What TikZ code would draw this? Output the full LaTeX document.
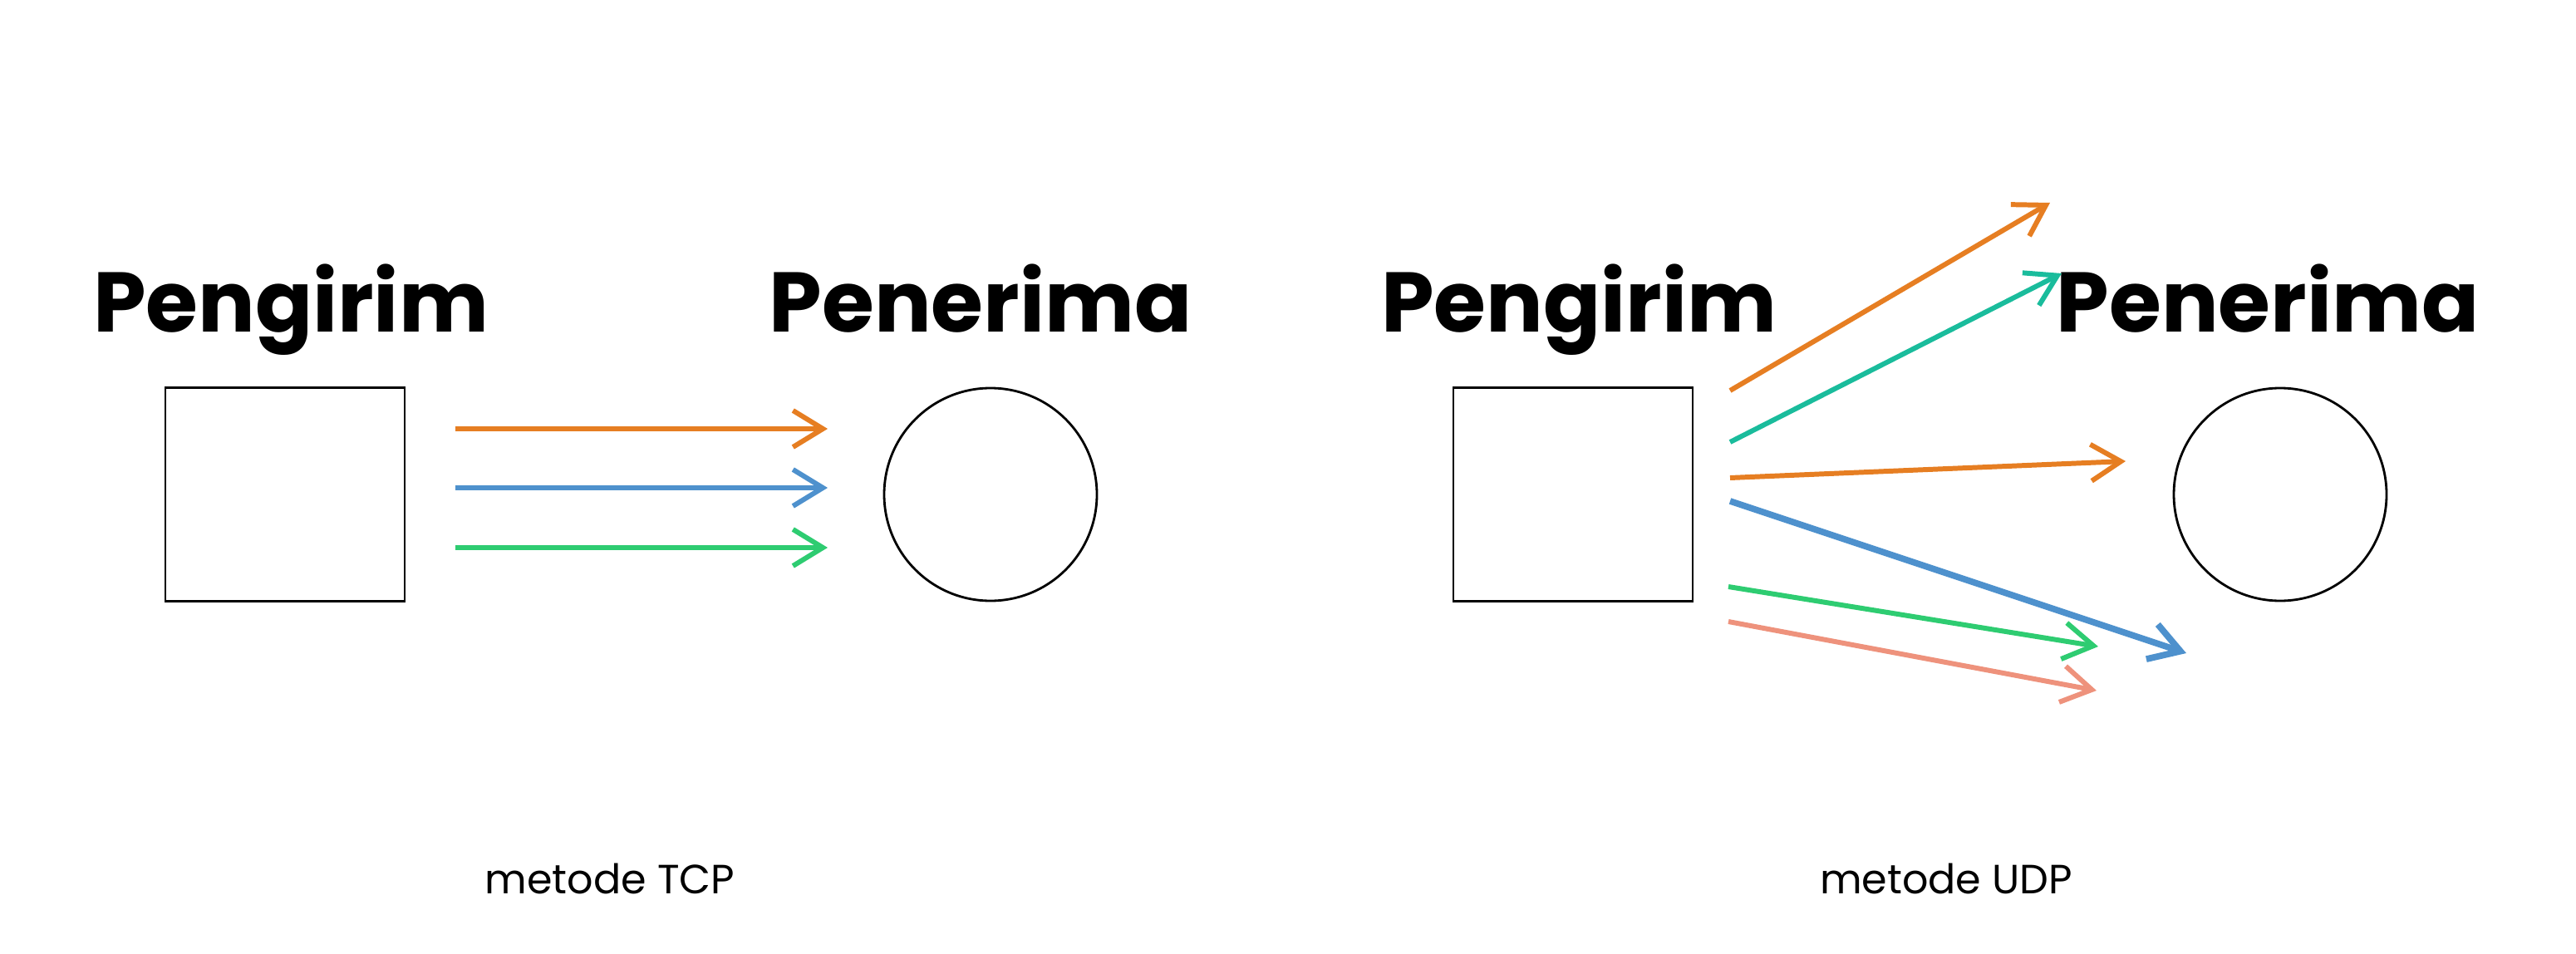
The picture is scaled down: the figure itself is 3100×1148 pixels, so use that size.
\documentclass[tikz,border=0pt]{standalone}
\usepackage{fontspec}
\setmainfont{Poppins}
\usepackage{tikz}
\usetikzlibrary{arrows.meta}
\definecolor{pktorange}{RGB}{230,126,34}
\definecolor{pktblue}{RGB}{78,145,205}
\definecolor{pktgreen}{RGB}{46,204,113}
\definecolor{pktteal}{RGB}{26,188,156}
\definecolor{pktsalmon}{RGB}{238,146,124}

\begin{document}
\begin{tikzpicture}[x=0.1mm,y=-0.1mm,
    judul/.style={font=\fontsize{29}{35}\selectfont\bfseries,anchor=base},
    ket/.style={font=\fontsize{14}{17}\selectfont,anchor=base},
    kotak/.style={draw,line width=0.6pt,minimum width=2.88cm,minimum height=2.57cm,inner sep=0pt},
    bulat/.style={circle,draw,line width=0.8pt,minimum size=2.56cm,inner sep=0pt},
    paket/.style={line width=1.7pt,-{Straight Barb[length=3.6mm,width=4.4mm]}}]
        \useasboundingbox (0,0) rectangle (3100,1148);
        % metode TCP
        \node[judul] (kirim1) at (350,399) {Pengirim};
        \node[judul] (terima1) at (1180,399) {Penerima};
        \node[kotak] (src1) at (343,595) {};
        \node[bulat] (dst1) at (1192,595) {};
        \coordinate (a1) at (548,516);  \coordinate (a2) at (996,516);
        \coordinate (b1) at (548,587);  \coordinate (b2) at (996,587);
        \coordinate (c1) at (548,659);  \coordinate (c2) at (996,659);
        \draw[paket,pktorange] (a1) -- (a2);
        \draw[paket,pktblue] (b1) -- (b2);
        \draw[paket,pktgreen] (c1) -- (c2);
        \node[ket] (tcp) at (734,1075) {metode TCP};
        % metode UDP
        \node[judul] (kirim2) at (1900,399) {Pengirim};
        \node[judul] (terima2) at (2729,399) {Penerima};
        \node[kotak] (src2) at (1893,595) {};
        \node[bulat] (dst2) at (2744,595) {};
        \coordinate (p1) at (2082,470);  \coordinate (p2) at (2467,244);
        \coordinate (q1) at (2082,532);  \coordinate (q2) at (2481,329);
        \coordinate (r1) at (2082,575);  \coordinate (r2) at (2558,555);
        \coordinate (s1) at (2082,603);  \coordinate (s2) at (2631,786);
        \coordinate (t1) at (2080,706);  \coordinate (t2) at (2525,778);
        \coordinate (u1) at (2080,748);  \coordinate (u2) at (2523,831);
        \draw[paket,pktorange] (p1) -- (p2);
        \draw[paket,pktteal] (q1) -- (q2);
        \draw[paket,pktorange] (r1) -- (r2);
        \draw[paket,pktblue,line width=2.2pt] (s1) -- (s2);
        \draw[paket,pktgreen] (t1) -- (t2);
        \draw[paket,pktsalmon] (u1) -- (u2);
        \node[ket] (udp) at (2342,1075) {metode UDP};
      \end{tikzpicture}
\end{document}
